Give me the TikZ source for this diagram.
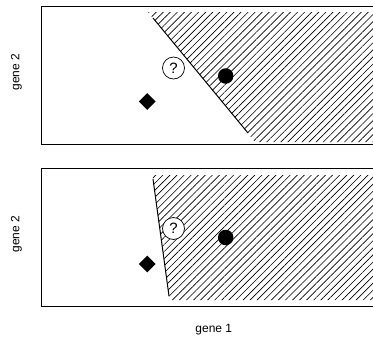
\documentclass[tikz,border=0pt]{standalone}
\usepackage{fontspec}
\setmainfont{Liberation Sans}
\usetikzlibrary{shapes.geometric,patterns.meta}
\begin{document}
\begin{tikzpicture}[x=1bp,y=-1bp,
  panel/.style={draw=black,line width=1bp},
  hatch/.style={pattern={Lines[angle=45,distance=5bp,line width=0.65bp]},pattern color=black},
  border/.style={line width=1bp,black},
  qmark/.style={circle,draw,fill=white,line width=0.7bp,minimum size=22bp,inner sep=0pt,font=\fontsize{15bp}{16bp}\selectfont},
  dotpt/.style={circle,fill=black,minimum size=15.5bp,inner sep=0pt},
  diam/.style={diamond,fill=black,minimum size=17bp,inner sep=0pt},
  lab/.style={font=\fontsize{12bp}{14bp}\selectfont}]
\useasboundingbox (0,0) rectangle (373,338);
\clip (0,0) rectangle (373,338);
\fill[white] (0,0) rectangle (373,338);
% top panel
\fill[hatch] (148,12) -- (385,12) -- (385,142) -- (255,142) -- cycle;
\coordinate (t1) at (153,18);
\coordinate (t2) at (248,133);
\draw[border] (t1) -- (t2);
\draw[panel] (385,6.5) -- (41,6.5) -- (41,144.5) -- (385,144.5);
\node[qmark] (q1) at (173.5,68) {?};
\node[dotpt] (c1) at (225.7,76) {};
\node[diam] (d1) at (147.3,101.5) {};
\node[lab,rotate=90] (g2a) at (16.5,72) {gene 2};
% bottom panel
\fill[hatch] (152.5,175) -- (385,175) -- (385,300) -- (169.5,300) -- cycle;
\coordinate (b1) at (153,179);
\coordinate (b2) at (169,296);
\draw[border] (b1) -- (b2);
\draw[panel] (385,168) -- (41,168) -- (41,306) -- (385,306);
\node[qmark] (q2) at (173.5,228.5) {?};
\node[dotpt] (c2) at (225.7,237.5) {};
\node[diam] (d2) at (147.3,264) {};
\node[lab,rotate=90] (g2b) at (16.5,234) {gene 2};
\node[lab] (g1) at (213.8,330) {gene 1};
\end{tikzpicture}
\end{document}
